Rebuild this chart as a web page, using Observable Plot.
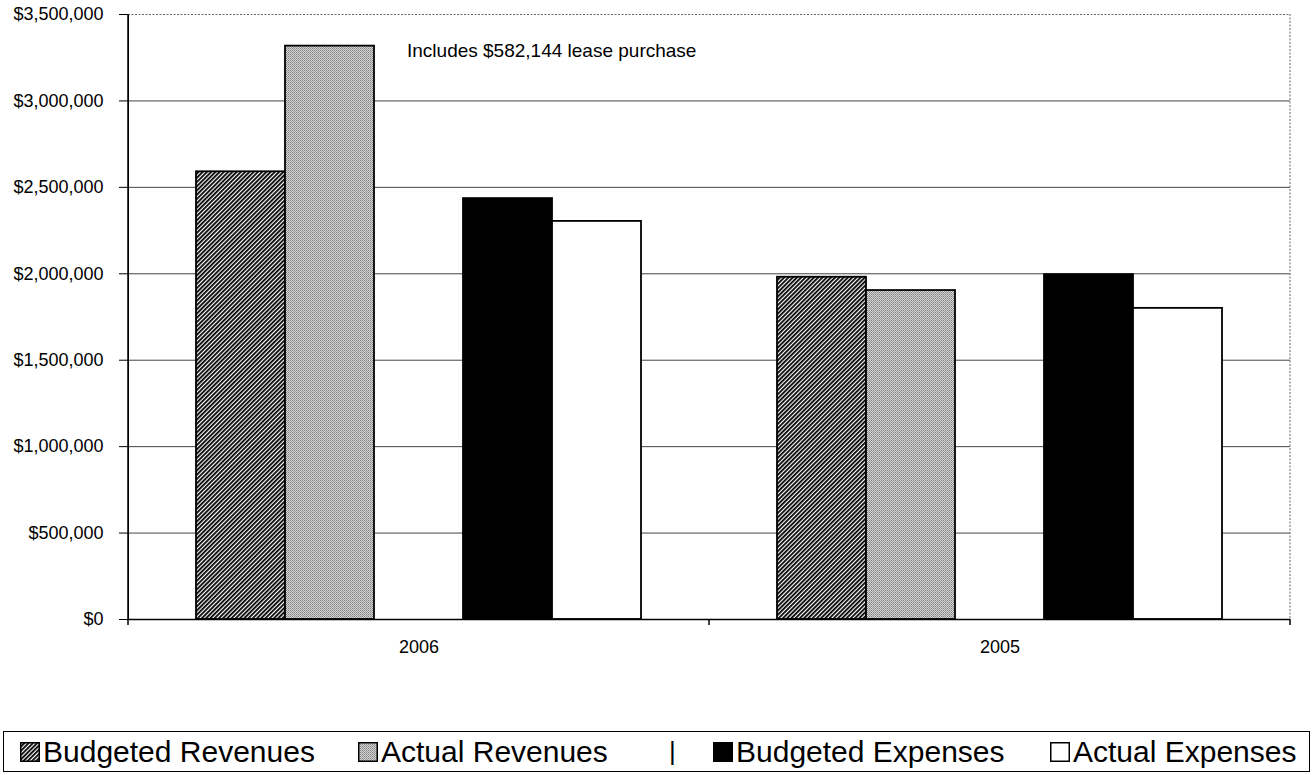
<!DOCTYPE html>
<html>
<head>
<meta charset="utf-8">
<script src="https://cdn.jsdelivr.net/npm/d3@7"></script>
<script src="https://cdn.jsdelivr.net/npm/@observablehq/plot@0.6"></script>
<style>
  html, body { margin: 0; padding: 0; background: #fff; }
  body { font-family: "Liberation Sans", Arial, sans-serif; width: 1314px; height: 775px; position: relative; overflow: hidden; }
  #chart { position: absolute; left: 0; top: 0; }
  #legend { position: absolute; left: 3px; top: 731px; width: 1307px; height: 41px; box-sizing: border-box; border: 1px solid #000; }
  #legend .item { position: absolute; top: 0; height: 39px; display: flex; align-items: center; font-size: 30px; color: #000; white-space: nowrap; }
  #legend .item svg { margin-right: 3px; }
</style>
</head>
<body>
<svg width="0" height="0" style="position:absolute">
  <defs>
    <pattern id="hatch" patternUnits="userSpaceOnUse" width="3" height="3" patternTransform="rotate(45)">
      <rect width="3" height="3" fill="#fff"/>
      <rect width="1.8" height="3" fill="#000"/>
    </pattern>
    <pattern id="stipple" patternUnits="userSpaceOnUse" width="2" height="2">
      <rect width="2" height="2" fill="#d6d6d6"/>
      <rect width="1" height="1" fill="#7e7e7e"/>
      <rect x="1" y="1" width="1" height="1" fill="#9a9a9a"/>
    </pattern>
  </defs>
</svg>
<div id="chart"></div>
<div id="legend"></div>
<script>
// ---- data ----
const years = ["2006", "2005"];
const series = ["Budgeted Revenues", "Actual Revenues", "Budgeted Expenses", "Actual Expenses"];
const slots = ["Budgeted Revenues", "Actual Revenues", " ", "Budgeted Expenses", "Actual Expenses"];
const values2006 = [2590000, 3317000, 2435000, 2303000];
const values2005 = [1980000, 1903000, 1995000, 1800000];
const yTicks = [0, 500000, 1000000, 1500000, 2000000, 2500000, 3000000, 3500000];
const annotationText = ["Includes $582,144 lease purchase"];
const annotationYear = ["2006"];
const annotationValue = [3292000];

// ---- build table ----
const valuesByYear = [values2006, values2005];
const rows = years.flatMap((yr, i) => series.map((s, j) => ({year: yr, series: s, value: valuesByYear[i][j]})));
const notes = annotationText.map((t, i) => ({year: annotationYear[i], slot: " ", value: annotationValue[i], text: t}));
const fills = ["url(#hatch)", "url(#stipple)", "#000", "#fff"];
const gridTicks = yTicks.filter(v => v > 0 && v < 3500000);
const topTick = yTicks.filter(v => v === 3500000);

const chart = Plot.plot({
  width: 1314,
  height: 679,
  marginLeft: 128,
  marginRight: 24,
  marginTop: 14,
  marginBottom: 60,
  style: {fontFamily: "'Liberation Sans', Arial, sans-serif", fontSize: "18px", color: "#000", background: "transparent", overflow: "visible"},
  fx: {domain: years, padding: 0, label: null, axis: "bottom", tickSize: 0, tickPadding: 21},
  x: {domain: slots, paddingInner: 0, paddingOuter: 0.75, axis: null},
  y: {domain: [0, 3500000], ticks: yTicks, tickFormat: d3.format("$,"), tickSize: 9, tickPadding: 16, label: null, line: true},
  color: {domain: series, range: fills},
  marks: [
    Plot.ruleY(gridTicks, {stroke: "#444", strokeWidth: 1}),
    Plot.ruleY(topTick, {stroke: "#666", strokeWidth: 1, strokeDasharray: "2,1.5"}),
    Plot.barY(rows, {fx: "year", x: "series", y: "value", fill: "series", stroke: "#000", strokeWidth: 1.8}),
    Plot.ruleY([0], {stroke: "#000", strokeWidth: 1.5}),
    Plot.text(notes, {fx: "year", x: "slot", y: "value", text: "text", textAnchor: "start", dx: -12, fontSize: 19, fill: "#000"})
  ]
});
document.getElementById("chart").appendChild(chart);

// frame: right dotted border, left axis line and category boundary ticks, from the scales
const fxS = chart.scale("fx");
const yS = chart.scale("y");
const [fx0, fx1] = fxS.range;
const step = fxS.step || fxS.bandwidth || (fx1 - fx0) / years.length;
const [yb, yt] = yS.range;
const svg = d3.select(chart);
svg.append("line").attr("x1", fx1).attr("x2", fx1).attr("y1", yt).attr("y2", yb)
  .attr("stroke", "#666").attr("stroke-dasharray", "2,1.5");
svg.append("line").attr("x1", fx0).attr("x2", fx0).attr("y1", yt).attr("y2", yb)
  .attr("stroke", "#000").attr("stroke-width", 1.5);
years.concat(["end"]).forEach((_, i) => {
  const x = fx0 + i * step;
  svg.append("line").attr("x1", x).attr("x2", x).attr("y1", yb).attr("y2", yb + 6)
    .attr("stroke", "#000").attr("stroke-width", 1.5);
});

// ---- legend ----
const legendLeft = [16, 354, 709, 1046];
const legend = d3.select("#legend");
series.forEach((s, i) => {
  const item = legend.append("div").attr("class", "item").style("left", legendLeft[i] + "px");
  const sw = item.append("svg").attr("width", 20).attr("height", 20);
  sw.append("rect").attr("x", 0.75).attr("y", 0.75).attr("width", 18.5).attr("height", 18.5)
    .attr("fill", fills[i]).attr("stroke", "#000").attr("stroke-width", 1.5);
  item.append("span").text(s);
});
legend.append("div").attr("class", "item").style("left", "665px").text("|").style("font-size", "26px");
</script>
</body>
</html>
